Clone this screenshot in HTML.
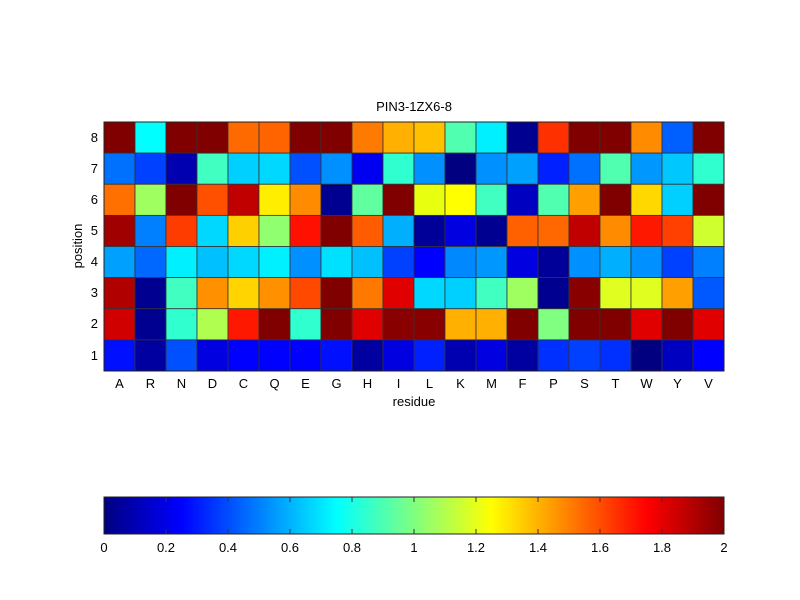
<!DOCTYPE html>
<html><head><meta charset="utf-8"><style>
body{margin:0;background:#fff;width:800px;height:600px;overflow:hidden}
svg{display:block;font-family:"Liberation Sans",Arial,sans-serif}
</style></head><body>
<svg id="s" width="800" height="600" xmlns="http://www.w3.org/2000/svg">
<defs>
<linearGradient id="jet" x1="0" x2="1" y1="0" y2="0">
<stop offset="0" stop-color="#000080"/><stop offset="0.125" stop-color="#0000ff"/>
<stop offset="0.375" stop-color="#00ffff"/><stop offset="0.625" stop-color="#ffff00"/>
<stop offset="0.875" stop-color="#ff0000"/><stop offset="1" stop-color="#800000"/>
</linearGradient>
</defs>
<g id="cells"></g>
<rect x="104" y="122" width="620" height="249" fill="none" stroke="#222" stroke-width="1"/>
<text x="414" y="111" font-size="13" text-anchor="middle">PIN3-1ZX6-8</text>
<g font-size="13" text-anchor="end">
<text x="98" y="142">8</text><text x="98" y="173">7</text><text x="98" y="204">6</text><text x="98" y="235">5</text>
<text x="98" y="266">4</text><text x="98" y="297">3</text><text x="98" y="328">2</text><text x="98" y="360">1</text>
</g>
<g font-size="13" text-anchor="middle" id="xl">
<text x="119.5" y="388">A</text><text x="150.5" y="388">R</text><text x="181.5" y="388">N</text><text x="212.5" y="388">D</text>
<text x="243.5" y="388">C</text><text x="274.5" y="388">Q</text><text x="305.5" y="388">E</text><text x="336.5" y="388">G</text>
<text x="367.5" y="388">H</text><text x="398.5" y="388">I</text><text x="429.5" y="388">L</text><text x="460.5" y="388">K</text>
<text x="491.5" y="388">M</text><text x="522.5" y="388">F</text><text x="553.5" y="388">P</text><text x="584.5" y="388">S</text>
<text x="615.5" y="388">T</text><text x="646.5" y="388">W</text><text x="677.5" y="388">Y</text><text x="708.5" y="388">V</text>
</g>
<text x="414" y="406" font-size="13" text-anchor="middle">residue</text>
<text x="0" y="0" font-size="13" text-anchor="middle" transform="translate(82,246) rotate(-90)">position</text>
<rect x="104" y="497" width="620" height="37" fill="url(#jet)" stroke="#222" stroke-width="1"/>
<g stroke="#333" stroke-width="1">
<line x1="166" y1="497" x2="166" y2="502"/><line x1="228" y1="497" x2="228" y2="502"/><line x1="290" y1="497" x2="290" y2="502"/><line x1="352" y1="497" x2="352" y2="502"/><line x1="414" y1="497" x2="414" y2="502"/><line x1="476" y1="497" x2="476" y2="502"/><line x1="538" y1="497" x2="538" y2="502"/><line x1="600" y1="497" x2="600" y2="502"/><line x1="662" y1="497" x2="662" y2="502"/>
<line x1="166" y1="534" x2="166" y2="529"/><line x1="228" y1="534" x2="228" y2="529"/><line x1="290" y1="534" x2="290" y2="529"/><line x1="352" y1="534" x2="352" y2="529"/><line x1="414" y1="534" x2="414" y2="529"/><line x1="476" y1="534" x2="476" y2="529"/><line x1="538" y1="534" x2="538" y2="529"/><line x1="600" y1="534" x2="600" y2="529"/><line x1="662" y1="534" x2="662" y2="529"/>
</g>
<g font-size="13" text-anchor="middle">
<text x="104" y="552">0</text><text x="166" y="552">0.2</text><text x="228" y="552">0.4</text><text x="290" y="552">0.6</text><text x="352" y="552">0.8</text><text x="414" y="552">1</text><text x="476" y="552">1.2</text><text x="538" y="552">1.4</text><text x="600" y="552">1.6</text><text x="662" y="552">1.8</text><text x="724" y="552">2</text>
</g>
</svg>
<script>
var rows=[
"800000 00ffff 800000 800000 ff6a00 ff6400 800000 800000 ff7a00 ffb000 ffc000 50ffb0 00f0ff 000090 ff3000 800000 800000 ff8c00 0060ff 800000",
"0070ff 0040ff 0000b0 40ffc0 00d0ff 00d8ff 0050ff 0090ff 0000f0 30ffd0 0090ff 000080 0090ff 00a0ff 0020ff 0070ff 50ffb0 0098ff 00c8ff 30ffd0",
"ff7000 a0ff60 800000 ff5000 c00000 ffee00 ff8c00 000090 60ffa0 800000 e8ff10 ffff00 40ffc0 0000c0 50ffb0 ffa000 800000 ffd800 00d0ff 800000",
"a00000 0080ff ff3c00 00d8ff ffd000 90ff70 ff1000 800000 ff5c00 00b0ff 000098 0000e0 000090 ff6000 ff6800 c00000 ff8c00 ff1800 ff4000 d0ff30",
"00a0ff 0068ff 00f0ff 00c0ff 00d8ff 00f0ff 0090ff 00e0ff 00c0ff 0040ff 0000ff 0088ff 0098ff 0000e0 000098 0090ff 00b0ff 0090ff 0040ff 0080ff",
"b00000 000090 40ffc0 ff9000 ffd400 ff9000 ff4800 800000 ff7800 e00000 00d8ff 00d0ff 40ffc0 a0ff60 000090 880000 e0ff20 e0ff20 ffa000 0058ff",
"d00000 000090 30ffd0 b0ff50 ff1800 800000 30ffd0 800000 e00000 880000 880000 ffb000 ffb000 800000 80ff80 800000 800000 e00000 800000 e00000",
"0010ff 0000a0 0050ff 0000e0 0000ff 0000ff 0000ff 0010ff 0000a0 0000e0 0020ff 0000b0 0000e0 0000a0 0030ff 0040ff 0030ff 000080 0000c0 0000ff"];
var g=document.getElementById('cells'),h=249/8,ns="http://www.w3.org/2000/svg";
rows.forEach(function(r,i){r.split(' ').forEach(function(c,j){var e=document.createElementNS(ns,'rect');
e.setAttribute('x',104+j*31);e.setAttribute('y',122+i*h);e.setAttribute('width',31);e.setAttribute('height',h);
e.setAttribute('fill','#'+c);e.setAttribute('stroke','#333');e.setAttribute('stroke-width','0.8');g.appendChild(e);});});
</script>
</body></html>
